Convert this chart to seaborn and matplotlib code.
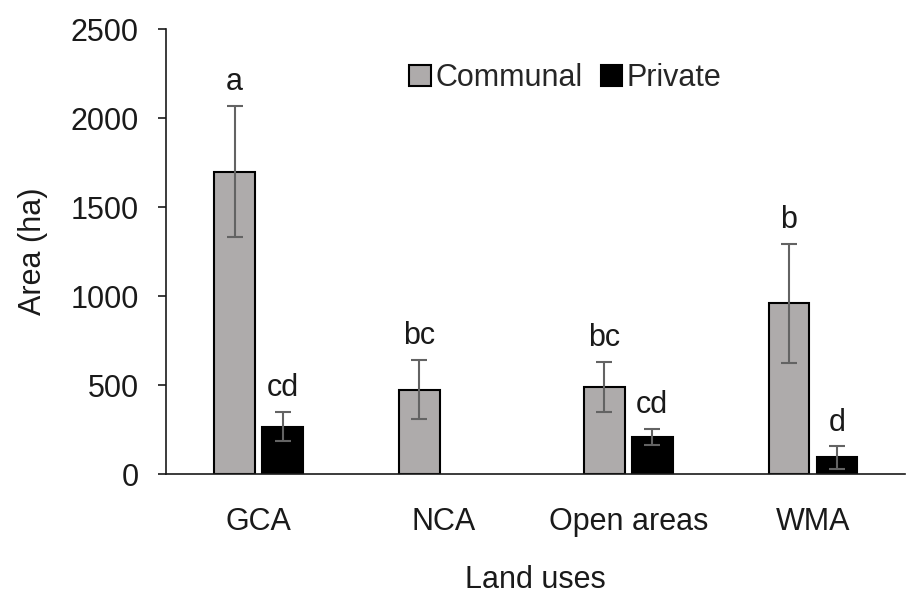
import pandas as pd
import matplotlib.pyplot as plt
import seaborn as sns

land_uses = ["GCA", "NCA", "Open areas", "WMA"]
communal = [1700, 475, 490, 960]
communal_err = [370, 165, 142, 335]
private = [268, None, 212, 95]
private_err = [83, None, 45, 62]
letters_communal = ["a", "bc", "bc", "b"]
letters_private = ["cd", "", "cd", "d"]

sns.set_style("white")
plt.rcParams['font.family'] = ['Liberation Sans', 'DejaVu Sans']

rows = []
for i, lu in enumerate(land_uses):
    rows.append({"Land uses": lu, "Tenure": "Communal", "Area": communal[i],
                 "err": communal_err[i], "letter": letters_communal[i]})
    if private[i] is not None:
        rows.append({"Land uses": lu, "Tenure": "Private", "Area": private[i],
                     "err": private_err[i], "letter": letters_private[i]})
df = pd.DataFrame(rows)

fig = plt.figure(figsize=(9.09, 5.93), dpi=100)
ax = fig.add_axes([0.183, 0.2, 0.813, 0.751])

sns.barplot(data=df, x="Land uses", y="Area", hue="Tenure", order=land_uses,
            hue_order=["Communal", "Private"],
            palette={"Communal": "#AEABAB", "Private": "#000000"},
            width=0.52, gap=0.15, edgecolor="black", linewidth=1.5,
            errorbar=None, ax=ax)

# error bars and letters placed on the drawn bars
for hue_name, cont in zip(["Communal", "Private"], ax.containers):
    for bar in cont:
        xc = bar.get_x() + bar.get_width() / 2
        cat = land_uses[int(round(xc))]
        row = df[(df["Land uses"] == cat) & (df["Tenure"] == hue_name)].iloc[0]
        ax.errorbar(xc, row["Area"], yerr=row["err"], fmt="none",
                    ecolor="#636363", elinewidth=1.5, capsize=6, capthick=1.5)
        ax.text(xc, row["Area"] + row["err"] + 50, row["letter"],
                ha="center", va="bottom", fontsize=22, color="#1a1a1a")

ax.set_ylim(0, 2500)
ax.set_xlim(-0.5, 3.5)
ax.set_yticks([0, 500, 1000, 1500, 2000, 2500])
ax.tick_params(axis="y", which="both", left=True, length=6, width=1.2,
               labelsize=22, colors="#1a1a1a", pad=14)
ax.tick_params(axis="x", bottom=False, labelsize=22, colors="#1a1a1a", pad=20)
ax.set_xlabel("Land uses", fontsize=22, color="#1a1a1a", labelpad=20)
ax.set_ylabel("Area (ha)", fontsize=22, color="#1a1a1a", labelpad=16)

for side in ["top", "right"]:
    ax.spines[side].set_visible(False)
for side in ["left", "bottom"]:
    ax.spines[side].set_color("#1a1a1a")
    ax.spines[side].set_linewidth(1.2)

ax.legend(loc="upper center", bbox_to_anchor=(0.54, 0.985), ncol=2,
          frameon=False, fontsize=22, handlelength=0.7, handleheight=0.7,
          handletextpad=0.15, columnspacing=0.6)

plt.savefig("out.png", dpi=100)
